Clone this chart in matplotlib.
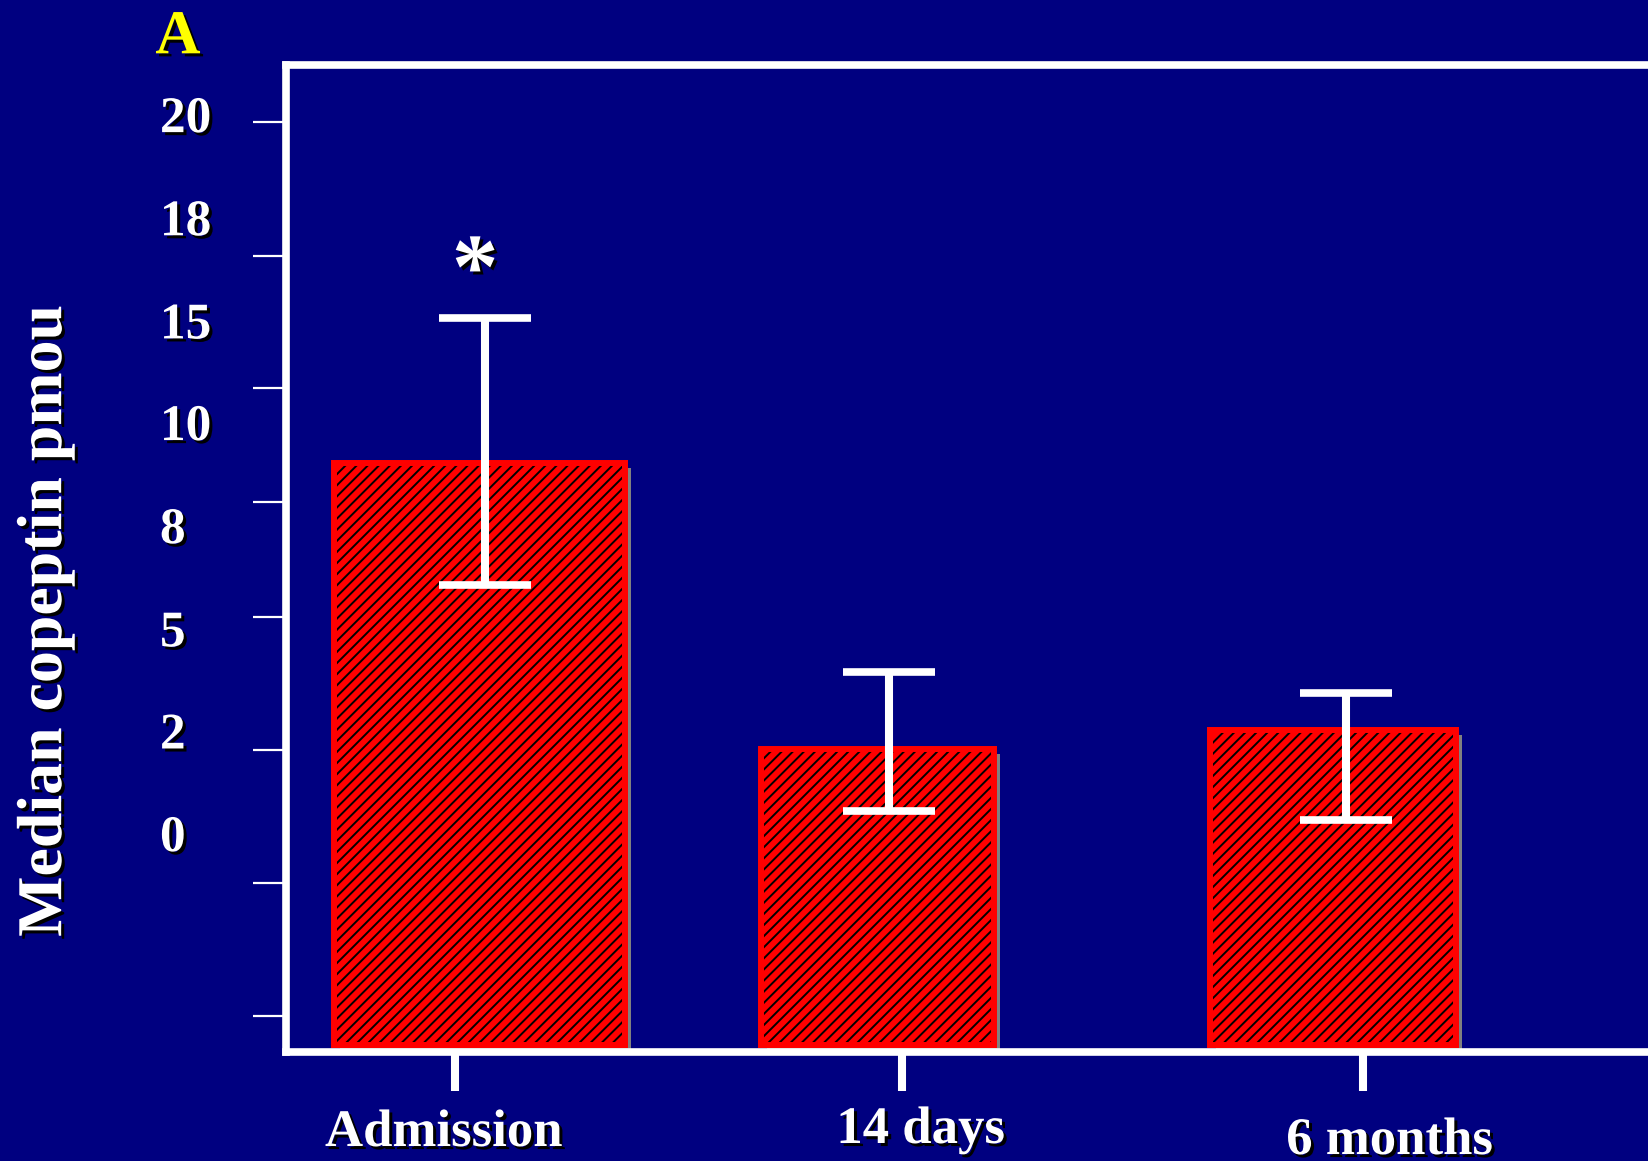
import matplotlib
matplotlib.use("Agg")
import matplotlib.pyplot as plt
import matplotlib.patheffects as pe
from matplotlib.transforms import ScaledTranslation, blended_transform_factory

# Data (y in plot units, baseline = 0)
categories = ["Admission", "14 days", "6 months"]
median_vals = [11.78, 5.98, 6.37]
err_low = [9.31, 4.73, 4.56]
err_high = [14.72, 7.54, 7.13]
ytick_labels = ["20", "18", "15", "10", "8", "5", "2", "0"]

# Layout (the slide has labels offset from its ticks)
bar_x = [0.016, 0.939, 1.996]
bar_w = [0.676, 0.541, 0.573]
err_x = [0.029, 0.966, 2.027]
xtick_x = [-0.041, 0.995, 2.066]
xlabel_x = [-0.068, 1.039, 2.127]
xlabel_y = [0.0129, 0.0155, 0.006]
ytick_pos = [18.7, 15.99, 13.31, 10.99, 8.67, 5.96, 3.28, 0.57]
ylabel_pos = [18.49, 16.40, 14.31, 12.25, 10.16, 8.07, 6.0, 3.92]

navy = "#000080"
plt.rcParams["font.family"] = ["Liberation Serif", "DejaVu Serif"]
plt.rcParams["font.weight"] = "bold"
plt.rcParams["hatch.linewidth"] = 1.4

shadow = [pe.withSimplePatchShadow(offset=(2.2, -2.2), shadow_rgbFace="black", alpha=1.0)]

fig = plt.figure(figsize=(16.48, 11.61), dpi=100, facecolor=navy)
ax = fig.add_axes([0.1735, 0.0939, 0.8265, 0.8501], facecolor=navy)

# bar shadow, hatched fill, red outline
sh = ax.bar(bar_x, median_vals, width=bar_w, color="#808080", linewidth=0, zorder=1)
off = ax.transData + ScaledTranslation(6 / 100, -5 / 100, fig.dpi_scale_trans)
for p in sh:
    p.set_transform(off)
ax.bar(bar_x, median_vals, width=bar_w, color="red", edgecolor="black",
       hatch="///", linewidth=0, zorder=2)
ax.bar(bar_x, median_vals, width=bar_w, fill=False, edgecolor="red",
       linewidth=4.3, zorder=3)

yerr = [[m - lo for m, lo in zip(median_vals, err_low)],
        [hi - m for m, hi in zip(median_vals, err_high)]]
ax.errorbar(err_x, median_vals, yerr=yerr, fmt="none", ecolor="white",
            elinewidth=5.8, capsize=33, capthick=5.5, zorder=4)

ax.text(0.005, 15.59, "*", color="white", fontsize=67, ha="center", va="center",
        path_effects=shadow, zorder=5)

ax.set_xlim(-0.434, 2.727)
ax.set_ylim(-0.15, 19.85)

for side in ["left", "top", "bottom"]:
    ax.spines[side].set_color("white")
    ax.spines[side].set_linewidth(5.5)
ax.spines["right"].set_visible(False)

ax.set_xticks(xtick_x)
ax.set_xticklabels([])
ax.tick_params(axis="x", length=28, width=5.8, color="white", direction="out")
ax.set_yticks(ytick_pos)
ax.set_yticklabels([])
ax.tick_params(axis="y", length=24, width=1.6, color="white", direction="out")

for lab, y in zip(ytick_labels, ylabel_pos):
    ax.text(-0.0925, y, lab, transform=ax.get_yaxis_transform(), color="white",
            fontsize=37, ha="left", va="baseline", path_effects=shadow, clip_on=False)

xt = blended_transform_factory(ax.transData, fig.transFigure)
for lab, x, y in zip(categories, xlabel_x, xlabel_y):
    ax.text(x, y, lab, transform=xt, color="white", fontsize=38, ha="center",
            va="baseline", path_effects=shadow, clip_on=False)

fig.text(0.028, 0.465, "Median copeptin pmou", rotation=90, color="white",
         fontsize=46, ha="center", va="center", path_effects=shadow)
fig.text(0.108, 0.967, "A", color="yellow", fontsize=45, ha="center", va="center",
         path_effects=shadow)

fig.savefig("out.png", dpi=100, facecolor=navy)
